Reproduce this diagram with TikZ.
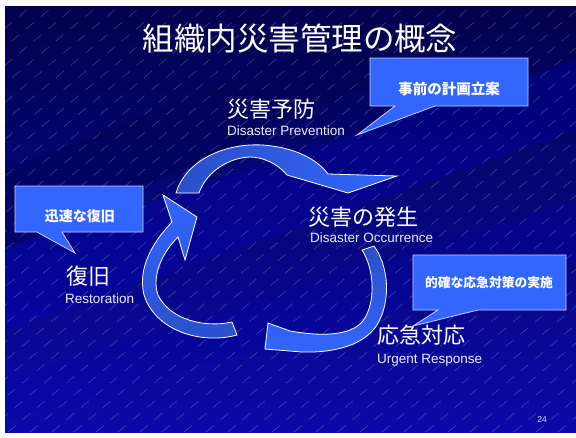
\documentclass[tikz,border=0pt]{standalone}
\usepackage{fontspec}
\setmainfont{Liberation Sans}
\newfontfamily\jp{Noto Sans CJK JP}
\definecolor{arrowblue}{HTML}{3366FF}
\definecolor{arrowdark}{HTML}{2A50C8}
\definecolor{bgtop}{HTML}{02024E}
\definecolor{bgbot}{HTML}{0A0AAA}
\definecolor{callblue}{HTML}{3366FF}
\begin{document}
\begin{tikzpicture}[x=1pt,y=-1pt,
  jpl/.style={text=white, font=\jp\fontsize{22}{22}\selectfont, inner sep=0pt, anchor=base west},
  enl/.style={text=white!92!blue, font=\fontsize{13.5}{13.5}\selectfont, inner sep=0pt, anchor=base west},
  calltext/.style={text=white, font=\jp\bfseries\fontsize{14}{14}\selectfont, inner sep=0pt},
  callout/.style={fill=callblue, draw=white!80!blue, line width=0.8pt, line join=miter},
  cyclearrow/.style={draw=white, line width=0.8pt, line join=miter}]
\useasboundingbox (0,0) rectangle (576,437);
\fill[white] (0,0) rectangle (576,437);
% background
\shade[top color=bgtop, bottom color=bgbot] (5,6) rectangle (576,432);
\begin{scope}
  \clip (5,6) rectangle (576,432);
  \fill[blue!80!black, opacity=0.25] (576,60) -- (576,130) -- (5,330) -- (5,250) -- cycle;
  \fill[bgtop, opacity=0.4] (420,6) -- (540,6) -- (5,250) -- (5,170) -- cycle;
  \fill[blue!70!black, opacity=0.2] (576,200) -- (576,260) -- (5,420) -- (5,380) -- cycle;
  \fill[bgtop, opacity=0.35] (520,6) -- (576,6) -- (576,60) -- cycle;
  \foreach \i in {0,...,52}
    \draw[white, opacity=0.3, line width=0.4pt, dash pattern=on 10pt off 9pt]
      (-520+\i*22, 432) -- ++(560,-470);
\end{scope}
% title
\node[text=white, font=\jp\fontsize{31.5}{31.5}\selectfont, inner sep=0pt] (title) at (300,39) {組織内災害管理の概念};
% cycle arrows
\shade[cyclearrow, left color=arrowdark, right color=arrowblue]
  (176,193) .. controls (186,160) and (225,143) .. (262,145)
  .. controls (295,147) and (318,160) .. (328,174)
  -- (397,176) -- (348,193) -- (287,175)
  .. controls (277,163) and (262,157) .. (250,157)
  .. controls (225,158) and (205,175) .. (199,193) -- cycle;
\shade[cyclearrow, top color=arrowdark, bottom color=arrowblue]
  (362,250) -- (374,246)
  .. controls (388,265) and (392,300) .. (377,325)
  .. controls (364,345) and (335,353) .. (302,352)
  -- (265,349) -- (268,323) -- (290,331)
  .. controls (330,338) and (352,333) .. (362,322)
  .. controls (376,305) and (375,270) .. (362,250) -- cycle;
\shade[cyclearrow, top color=arrowblue, bottom color=arrowdark]
  (232,322) -- (237,335)
  .. controls (200,345) and (155,330) .. (144,295)
  .. controls (138,270) and (150,245) .. (172,222)
  -- (163,195) -- (197,217) -- (185,260) -- (178,237)
  .. controls (160,255) and (152,278) .. (158,295)
  .. controls (170,320) and (205,328) .. (232,322) -- cycle;
% stage labels
\node[jpl] (prev) at (227,117) {災害予防};
\node[enl] (preven) at (227,135) {Disaster Prevention};
\node[jpl] (occ) at (308,225) {災害の発生};
\node[enl] (occen) at (310,242) {Disaster Occurrence};
\node[jpl] (urg) at (377,343) {応急対応};
\node[enl] (urgen) at (377,363) {Urgent Response};
\node[jpl] (rest) at (66,284) {復旧};
\node[enl] (resten) at (65,303) {Restoration};
% callouts
\draw[callout] (370,58) -- (528,58) -- (528,106) -- (435,106) -- (357,135) -- (395,106) -- (370,106) -- cycle;
\node[calltext, font=\jp\bfseries\fontsize{14.5}{14.5}\selectfont] (c1) at (449,89) {事前の計画立案};
\draw[callout] (15,186) -- (143,186) -- (143,232) -- (62,232) -- (75,253) -- (37,232) -- (15,232) -- cycle;
\node[calltext] (c2) at (80,216) {迅速な復旧};
\draw[callout] (413,255) -- (566,255) -- (566,310) -- (478,310) -- (413,326) -- (438,310) -- (413,310) -- cycle;
\node[calltext, font=\jp\bfseries\fontsize{12.8}{12.8}\selectfont] (c3) at (489,283) {的確な応急対策の実施};
% page number
\node[text=white!85!blue, font=\fontsize{8.5}{8.5}\selectfont, inner sep=0pt] (pg) at (542,420) {24};
\end{tikzpicture}
\end{document}
